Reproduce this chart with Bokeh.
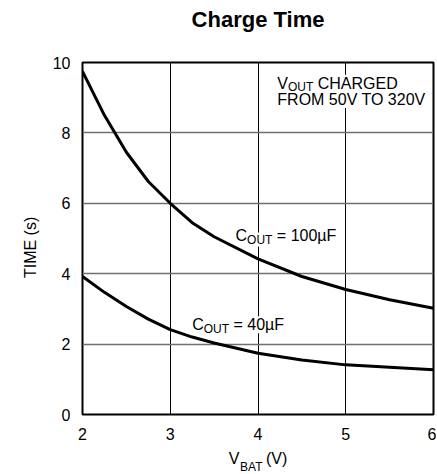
from bokeh.plotting import figure
from bokeh.models import Label, Range1d, FixedTicker, LinearAxis
from bokeh.embed import file_html
from bokeh.resources import INLINE

# ---- data ----
vbat = [2.0, 2.25, 2.5, 2.75, 3.0, 3.25, 3.5, 4.0, 4.5, 5.0, 5.5, 6.0]
t_100uF = [9.75, 8.5, 7.45, 6.62, 6.0, 5.45, 5.05, 4.42, 3.92, 3.55, 3.26, 3.02]
t_40uF = [3.92, 3.47, 3.07, 2.71, 2.41, 2.2, 2.03, 1.74, 1.55, 1.41, 1.34, 1.27]
x_ticks = [2, 3, 4, 5, 6]
y_ticks = [0, 2, 4, 6, 8, 10]

FONT = "Liberation Sans"
NB = "\u00a0"

# Arial/Liberation Sans advance widths (per 1000 em) for the label text
W = {"V": 667, "O": 778, "U": 722, "T": 611, " ": 278, "C": 722, "H": 722,
     "A": 667, "R": 722, "G": 778, "E": 667, "D": 722, "B": 667, "=": 584,
     "1": 556, "0": 556, "4": 556, "µ": 577, "F": 611, "(": 333, ")": 333}


def text_w(s, size):
    return sum(W.get(c, 556) for c in s) * size / 1000.0


p = figure(frame_width=351, frame_height=352,
           x_range=Range1d(2, 6), y_range=Range1d(0, 10),
           output_backend="svg", toolbar_location=None,
           min_border_left=82, min_border_right=3, min_border_top=62,
           min_border_bottom=10, title="Charge Time")

main_x = p.xaxis[0]
main_y = p.yaxis[0]

p.title.text_font = FONT
p.title.text_font_size = "22px"
p.title.text_font_style = "bold"
p.title.text_color = "black"
p.title.align = "center"
p.title.standoff = 0

p.background_fill_color = "white"
p.border_fill_color = "white"
p.outline_line_color = "black"
p.outline_line_width = 2

main_x.ticker = FixedTicker(ticks=x_ticks)
main_y.ticker = FixedTicker(ticks=y_ticks)
for ax in (main_x, main_y):
    ax.axis_line_color = None
    ax.major_tick_line_color = None
    ax.minor_tick_line_color = None
    ax.major_tick_out = 0
    ax.major_tick_in = 0
    ax.major_label_text_font = FONT
    ax.major_label_text_font_size = "16px"
    ax.major_label_text_color = "black"
    ax.axis_label_text_font = FONT
    ax.axis_label_text_font_size = "16px"
    ax.axis_label_text_font_style = "normal"
    ax.axis_label_text_color = "black"
main_x.major_label_standoff = 13
main_y.major_label_standoff = 12

# trailing no-break spaces move the visible label slightly below the frame centre
main_y.axis_label = "TIME (s)" + NB * 4
main_y.axis_label_standoff = 11

# x axis label "V_BAT (V)": main part + subscript drawn by a second, tick-less axis
main_x.axis_label = "V" + NB * 6 + "(V)"
main_x.axis_label_standoff = 7


def bare_axis(label, size, standoff):
    return LinearAxis(ticker=FixedTicker(ticks=[]), axis_label=label,
                      axis_line_color=None, major_tick_line_color=None,
                      minor_tick_line_color=None, major_tick_out=0, major_tick_in=0,
                      major_label_text_font_size="0px", major_label_standoff=0,
                      axis_label_text_font=FONT, axis_label_text_font_size=size,
                      axis_label_text_font_style="normal",
                      axis_label_text_color="black", axis_label_standoff=standoff)


p.add_layout(bare_axis("BAT" + NB * 4, "12px", -10), "below")
# invisible spacer between frame and title
p.add_layout(bare_axis(NB, "16px", 11), "above")

p.xgrid.ticker = FixedTicker(ticks=x_ticks)
p.ygrid.ticker = FixedTicker(ticks=y_ticks)
p.xgrid.grid_line_color = "black"
p.xgrid.grid_line_width = 1
p.ygrid.grid_line_color = "#707070"
p.ygrid.grid_line_width = 1.5

p.line(vbat, t_100uF, line_color="black", line_width=3)
p.line(vbat, t_40uF, line_color="black", line_width=3)


def add_pieces(x, y, parts, bg="white"):
    """parts: list of (text, size, dy, gap_before)"""
    off = 0.0
    for txt, size, dy, gap in parts:
        off += gap
        p.add_layout(Label(x=x, y=y, x_offset=off, y_offset=dy, text=txt,
                           text_font=FONT, text_font_size=f"{size}px",
                           text_color="black", text_align="left",
                           text_baseline="alphabetic",
                           background_fill_color=bg))
        off += text_w(txt, size)


SP = text_w(" ", 16)

# annotation block
add_pieces(4.22, 9.41, [("V", 16, 0, 0), ("OUT", 12, -4, 0), ("CHARGED", 16, 0, SP)])
add_pieces(4.22, 8.95, [("FROM 50V TO 320V", 16, 0, 0)])

# curve labels
add_pieces(3.744, 5.085, [("C", 16, 0, 0), ("OUT", 12, -4, 0), ("= 100µF", 16, 0, SP)])
add_pieces(3.25, 2.55, [("C", 16, 0, 0), ("OUT", 12, -4, 0), ("= 40µF", 16, 0, SP)])

open("out.html", "w").write(file_html(p, INLINE))
